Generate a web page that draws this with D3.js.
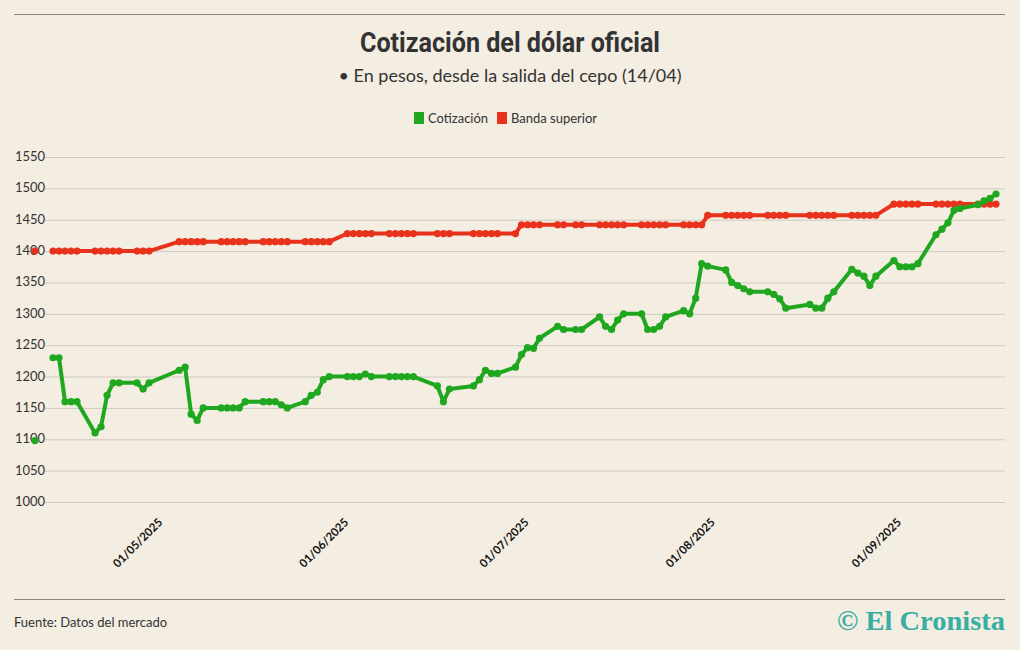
<!DOCTYPE html>
<html><head><meta charset="utf-8">
<script src="https://cdn.jsdelivr.net/npm/d3@7"></script>
<style>body{margin:0;background:#f3ede2;}svg{display:block;font-family:Lato,"Noto Sans",sans-serif;}</style>
</head><body><svg id="c" width="1020" height="650"></svg>
<script>
const dates = ["2025-04-11","2025-04-14","2025-04-15","2025-04-16","2025-04-17","2025-04-18","2025-04-21","2025-04-22","2025-04-23","2025-04-24","2025-04-25","2025-04-28","2025-04-29","2025-04-30",
"2025-05-05","2025-05-06","2025-05-07","2025-05-08","2025-05-09","2025-05-12","2025-05-13","2025-05-14","2025-05-15","2025-05-16","2025-05-19","2025-05-20","2025-05-21","2025-05-22","2025-05-23","2025-05-26","2025-05-27","2025-05-28","2025-05-29","2025-05-30",
"2025-06-02","2025-06-03","2025-06-04","2025-06-05","2025-06-06","2025-06-09","2025-06-10","2025-06-11","2025-06-12","2025-06-13","2025-06-17","2025-06-18","2025-06-19","2025-06-23","2025-06-24","2025-06-25","2025-06-26","2025-06-27","2025-06-30",
"2025-07-01","2025-07-02","2025-07-03","2025-07-04","2025-07-07","2025-07-08","2025-07-10","2025-07-11","2025-07-14","2025-07-15","2025-07-16","2025-07-17","2025-07-18","2025-07-21","2025-07-22","2025-07-23","2025-07-24","2025-07-25","2025-07-28","2025-07-29","2025-07-30","2025-07-31",
"2025-08-01","2025-08-04","2025-08-05","2025-08-06","2025-08-07","2025-08-08","2025-08-11","2025-08-12","2025-08-13","2025-08-14","2025-08-18","2025-08-19","2025-08-20","2025-08-21","2025-08-22","2025-08-25","2025-08-26","2025-08-27","2025-08-28","2025-08-29",
"2025-09-01","2025-09-02","2025-09-03","2025-09-04","2025-09-05","2025-09-08","2025-09-09","2025-09-10","2025-09-11","2025-09-12","2025-09-15","2025-09-16","2025-09-17","2025-09-18"];
const cotizacion = [1098,1230,1230,1160,1160,1160,1110,1120,1170,1190,1190,1190,1180,1190,
1210,1215,1140,1130,1150,1150,1150,1150,1150,1160,1160,1160,1160,1155,1150,1160,1170,1175,1195,1200,
1200,1200,1200,1204,1200,1200,1200,1200,1200,1200,1185,1160,1180,1185,1195,1210,1205,1205,1215,
1235,1246,1245,1261,1280,1275,1275,1275,1295,1280,1275,1290,1300,1300,1275,1275,1280,1295,1305,1300,1325,1380,
1376,1370,1350,1345,1340,1335,1335,1331,1324,1309,1315,1309,1309,1325,1335,1371,1365,1360,1345,1360,
1385,1375,1375,1375,1380,1426,1435,1445,1465,1468,1474,1480,1484,1491];
const bandaSuperior = [1400,1400,1400,1400,1400,1400,1400,1400,1400,1400,1400,1400,1400,1400,
1415,1415,1415,1415,1415,1415,1415,1415,1415,1415,1415,1415,1415,1415,1415,1415,1415,1415,1415,1415,
1428,1428,1428,1428,1428,1428,1428,1428,1428,1428,1428,1428,1428,1428,1428,1428,1428,1428,1428,
1442,1442,1442,1442,1442,1442,1442,1442,1442,1442,1442,1442,1442,1442,1442,1442,1442,1442,1442,1442,1442,1442,
1457,1457,1457,1457,1457,1457,1457,1457,1457,1457,1457,1457,1457,1457,1457,1457,1457,1457,1457,1457,
1475,1475,1475,1475,1475,1475,1475,1475,1475,1475,1475,1475,1475,1475];
const yTicks = [1000,1050,1100,1150,1200,1250,1300,1350,1400,1450,1500,1550];
const xTicks = ["2025-05-01","2025-06-01","2025-07-01","2025-08-01","2025-09-01"];

const parse = d3.timeParse("%Y-%m-%d"), fmt = d3.timeFormat("%d/%m/%Y");
const svg = d3.select("#c");
const x = d3.scaleTime().domain([parse("2025-04-14"), parse("2025-09-18")]).range([53, 996]);
const y = d3.scaleLinear().domain([1000,1550]).range([502,157]);

svg.append("line").attr("x1",14).attr("x2",1005).attr("y1",14.5).attr("y2",14.5).attr("stroke","#8a8580");
svg.append("line").attr("x1",14).attr("x2",1005).attr("y1",599.5).attr("y2",599.5).attr("stroke","#8a8580");
svg.append("text").attr("x",510).attr("y",52).attr("text-anchor","middle").attr("font-size",27).attr("font-weight",700)
  .attr("fill","#333").attr("font-family","Roboto").attr("textLength",300).attr("lengthAdjust","spacingAndGlyphs").text("Cotización del dólar oficial");
svg.append("text").attr("x",510).attr("y",82).attr("text-anchor","middle").attr("font-size",18).attr("fill","#333").text("• En pesos, desde la salida del cepo (14/04)");

const leg = [["Cotización","#1fa81f",414],["Banda superior","#e8321c",497]];
leg.forEach(l=>{
  svg.append("rect").attr("x",l[2]).attr("y",112).attr("width",10).attr("height",12).attr("fill",l[1]);
  svg.append("text").attr("x",l[2]+14).attr("y",123).attr("font-size",13).attr("fill","#333").text(l[0]);
});

const yg = svg.append("g");
yTicks.forEach(t=>{
  yg.append("line").attr("x1",45).attr("x2",1005).attr("y1",y(t)+0.5).attr("y2",y(t)+0.5).attr("stroke","#cfcac2");
  yg.append("text").attr("x",15).attr("y",y(t)+4).attr("font-size",13).attr("fill","#333").text(t);
});
xTicks.forEach(t=>{
  const xx = x(parse(t));
  svg.append("text").attr("transform",`translate(${xx+8},523) rotate(-45)`).attr("text-anchor","end")
    .attr("font-size",11.5).attr("font-weight",700).attr("fill","#111").text(fmt(parse(t)));
});

function drawSeries(vals,color){
  const data = dates.map((d,i)=>({d:parse(d),v:vals[i],i}));
  const line = d3.line().x(p=>x(p.d)).y(p=>y(p.v));
  svg.append("path").datum(data.slice(1)).attr("d",line).attr("fill","none").attr("stroke",color).attr("stroke-width",4).attr("stroke-linejoin","round");
  svg.selectAll(null).data(data).enter().append("circle").attr("cx",p=>x(p.d)).attr("cy",p=>y(p.v)).attr("r",3.6).attr("fill",color);
}
drawSeries(bandaSuperior,"#e8321c");
drawSeries(cotizacion,"#1fa81f");

svg.append("text").attr("x",14).attr("y",627).attr("font-size",13).attr("fill","#333").text("Fuente: Datos del mercado");
svg.append("text").attr("x",1005).attr("y",630).attr("text-anchor","end").attr("font-size",28).attr("font-weight",700).attr("fill","#3aaea2")
  .attr("font-family","Liberation Serif").attr("textLength",168).attr("lengthAdjust","spacingAndGlyphs").text("© El Cronista");
</script></body></html>
